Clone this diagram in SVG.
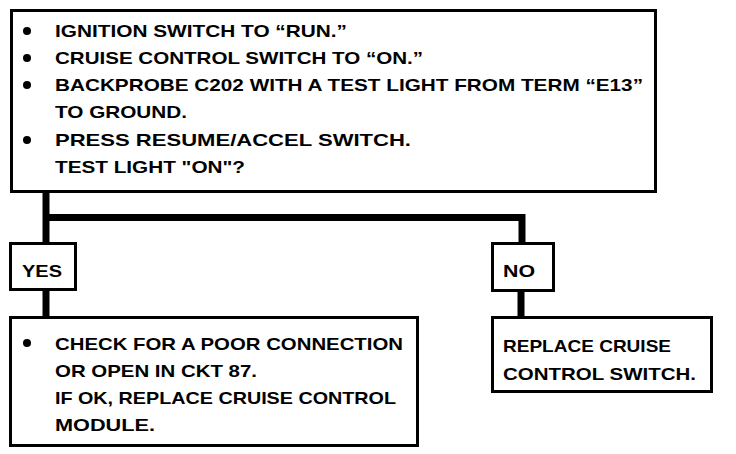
<svg xmlns="http://www.w3.org/2000/svg" width="736" height="454" viewBox="0 0 736 454">
<style>
.box{fill:#fff;stroke:#000;stroke-width:3}
.t{font-family:"Liberation Sans",Arial,sans-serif;font-weight:bold;font-size:17px;fill:#000}
.c{stroke:#000;stroke-width:7;fill:none;stroke-linecap:butt}
</style>
<rect width="736" height="454" fill="#fff"/>
<g id="connectors">
<path class="c" d="M46 192 V243"/>
<path class="c" d="M43 217.5 H522 V243"/>
<path class="c" d="M46 290 V317"/>
<path class="c" d="M521 291 V317"/>
</g>
<g id="question">
<rect class="box" x="11.5" y="10.5" width="644" height="181"/>
<circle cx="27" cy="31" r="4"/>
<circle cx="27" cy="58" r="4"/>
<circle cx="27" cy="85" r="4"/>
<circle cx="27" cy="140" r="4"/>
<text class="t" x="55" y="37" textLength="292" lengthAdjust="spacingAndGlyphs">IGNITION SWITCH TO “RUN.”</text>
<text class="t" x="55" y="64" textLength="368" lengthAdjust="spacingAndGlyphs">CRUISE CONTROL SWITCH TO “ON.”</text>
<text class="t" x="55" y="91" textLength="588" lengthAdjust="spacingAndGlyphs">BACKPROBE C202 WITH A TEST LIGHT FROM TERM “E13”</text>
<text class="t" x="55" y="118" textLength="132" lengthAdjust="spacingAndGlyphs">TO GROUND.</text>
<text class="t" x="55" y="146" textLength="356" lengthAdjust="spacingAndGlyphs">PRESS RESUME/ACCEL SWITCH.</text>
<text class="t" x="55" y="173" textLength="190" lengthAdjust="spacingAndGlyphs">TEST LIGHT "ON"?</text>
</g>
<g id="yes">
<rect class="box" x="10.5" y="243.5" width="65" height="46"/>
<text class="t" x="22" y="277" textLength="40" lengthAdjust="spacingAndGlyphs">YES</text>
</g>
<g id="no">
<rect class="box" x="492.5" y="243.5" width="61" height="47"/>
<text class="t" x="503" y="277" textLength="32" lengthAdjust="spacingAndGlyphs">NO</text>
</g>
<g id="yes-action">
<rect class="box" x="10.5" y="317.5" width="407" height="128"/>
<circle cx="27" cy="343" r="4"/>
<text class="t" x="55" y="350" textLength="348" lengthAdjust="spacingAndGlyphs">CHECK FOR A POOR CONNECTION</text>
<text class="t" x="55" y="377" textLength="202" lengthAdjust="spacingAndGlyphs">OR OPEN IN CKT 87.</text>
<text class="t" x="55" y="404" textLength="341" lengthAdjust="spacingAndGlyphs">IF OK, REPLACE CRUISE CONTROL</text>
<text class="t" x="55" y="431" textLength="100" lengthAdjust="spacingAndGlyphs">MODULE.</text>
</g>
<g id="no-action">
<rect class="box" x="492.5" y="317.5" width="219" height="74"/>
<text class="t" x="503" y="352" textLength="168" lengthAdjust="spacingAndGlyphs">REPLACE CRUISE</text>
<text class="t" x="503" y="380" textLength="193" lengthAdjust="spacingAndGlyphs">CONTROL SWITCH.</text>
</g>
</svg>
